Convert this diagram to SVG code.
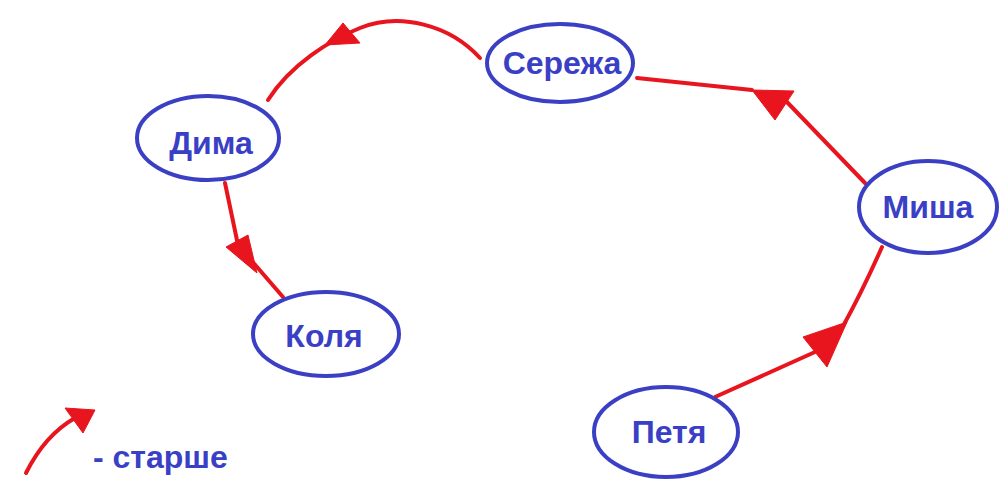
<svg xmlns="http://www.w3.org/2000/svg" width="1000" height="489" viewBox="0 0 1000 489">
<style>
.node ellipse{fill:#ffffff;stroke:#3a3fc4;stroke-width:4}
.node text,.legend text{font-family:"Liberation Sans",Arial,sans-serif;font-weight:bold;font-size:32px;fill:#3a40c6;text-anchor:middle}
.edge{fill:none;stroke:#e8141e;stroke-width:4;stroke-linecap:round}
.head{fill:#e8141e;stroke:#e8141e;stroke-width:1;stroke-linejoin:round}
</style>
<rect width="1000" height="489" fill="#ffffff"/>
<g id="connectors">
  <path class="edge" d="M480,58 C450,25 400,12 360,28 C330,40 290,65 268,100"/>
  <polygon class="head" points="343,23 325,45 360,43"/>
  <path class="edge" d="M225,183 L238,245 L283,297"/>
  <polygon class="head" points="226,247 248,235 257,273"/>
  <path class="edge" d="M637,78 L752,90"/>
  <path class="edge" d="M865,183 L785,100"/>
  <polygon class="head" points="752,90 794,91 775,120"/>
  <path class="edge" d="M715,397 L815,352"/>
  <path class="edge" d="M842,328 Q862,292 882,247"/>
  <polygon class="head" points="803,337 847,322 827,367"/>
</g>
<g id="node-dima" class="node">
  <ellipse cx="208" cy="138" rx="71" ry="42"/>
  <text x="211" y="154">Дима</text>
</g>
<g id="node-kolya" class="node">
  <ellipse cx="326" cy="334" rx="73" ry="42"/>
  <text x="324" y="347">Коля</text>
</g>
<g id="node-serezha" class="node">
  <ellipse cx="560" cy="63" rx="73" ry="39"/>
  <text x="562" y="74">Сережа</text>
</g>
<g id="node-misha" class="node">
  <ellipse cx="928" cy="207" rx="69" ry="46"/>
  <text x="928" y="218">Миша</text>
</g>
<g id="node-petya" class="node">
  <ellipse cx="666" cy="432" rx="72" ry="45"/>
  <text x="669" y="443">Петя</text>
</g>
<g id="legend" class="legend">
  <path class="edge" d="M26,473 Q45,435 75,418"/>
  <polygon class="head" points="65,408 95,410 83,433"/>
  <text x="93" y="468" style="text-anchor:start">- старше</text>
</g>
</svg>
